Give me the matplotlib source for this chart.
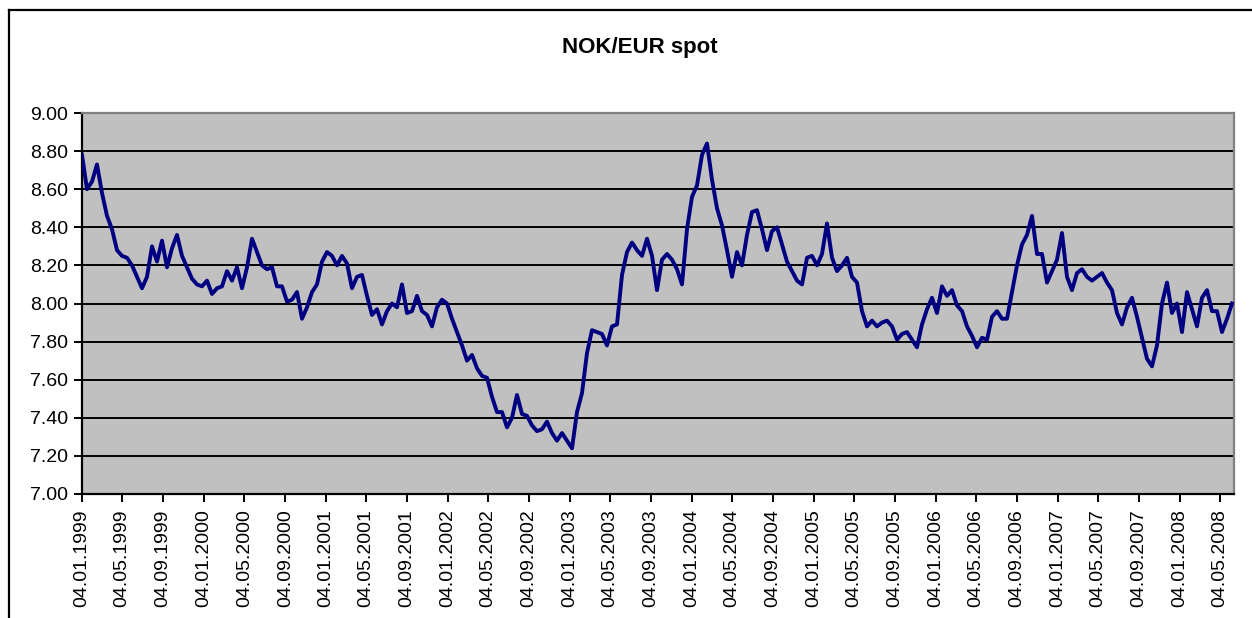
import pandas as pd
import matplotlib
matplotlib.use("Agg")
import matplotlib.pyplot as plt
import matplotlib.dates as mdates
from matplotlib.lines import Line2D

plt.rcParams['font.family'] = ['Liberation Sans', 'DejaVu Sans']

# NOK/EUR spot at even steps from 04.01.1999 to 09.06.2008
start_date = "1999-01-04"
end_date = "2008-06-09"
nok_eur = [
    8.78, 8.60, 8.64, 8.73, 8.58, 8.46, 8.39, 8.28, 8.25, 8.24,
    8.20, 8.14, 8.08, 8.14, 8.30, 8.22, 8.33, 8.19, 8.29, 8.36,
    8.25, 8.19, 8.13, 8.10, 8.09, 8.12, 8.05, 8.08, 8.09, 8.17,
    8.12, 8.19, 8.08, 8.19, 8.34, 8.27, 8.20, 8.18, 8.19, 8.09,
    8.09, 8.01, 8.02, 8.06, 7.92, 7.98, 8.06, 8.10, 8.22, 8.27,
    8.25, 8.20, 8.25, 8.21, 8.08, 8.14, 8.15, 8.04, 7.94, 7.97,
    7.89, 7.96, 8.00, 7.98, 8.10, 7.95, 7.96, 8.04, 7.96, 7.94,
    7.88, 7.98, 8.02, 8.00, 7.92, 7.85, 7.78, 7.70, 7.73, 7.66,
    7.62, 7.61, 7.51, 7.43, 7.43, 7.35, 7.40, 7.52, 7.42, 7.41,
    7.36, 7.33, 7.34, 7.38, 7.32, 7.28, 7.32, 7.28, 7.24, 7.43,
    7.53, 7.74, 7.86, 7.85, 7.84, 7.78, 7.88, 7.89, 8.15, 8.27,
    8.32, 8.28, 8.25, 8.34, 8.25, 8.07, 8.23, 8.26, 8.23, 8.18,
    8.10, 8.39, 8.56, 8.62, 8.78, 8.84, 8.65, 8.50, 8.41, 8.28,
    8.14, 8.27, 8.20, 8.36, 8.48, 8.49, 8.39, 8.28, 8.38, 8.40,
    8.31, 8.22, 8.17, 8.12, 8.10, 8.24, 8.25, 8.20, 8.26, 8.42,
    8.24, 8.17, 8.20, 8.24, 8.14, 8.11, 7.96, 7.88, 7.91, 7.88,
    7.90, 7.91, 7.88, 7.81, 7.84, 7.85, 7.81, 7.77, 7.89, 7.97,
    8.03, 7.95, 8.09, 8.04, 8.07, 7.99, 7.96, 7.88, 7.83, 7.77,
    7.82, 7.81, 7.93, 7.96, 7.92, 7.92, 8.06, 8.20, 8.31, 8.36,
    8.46, 8.26, 8.26, 8.11, 8.17, 8.23, 8.37, 8.14, 8.07, 8.16,
    8.18, 8.14, 8.12, 8.14, 8.16, 8.11, 8.07, 7.95, 7.89, 7.98,
    8.03, 7.93, 7.82, 7.71, 7.67, 7.78, 8.00, 8.11, 7.95, 8.00,
    7.85, 8.06, 7.97, 7.88, 8.03, 8.07, 7.96, 7.96, 7.85, 7.92,
    8.00,
]
dates = pd.date_range(start_date, end_date, periods=len(nok_eur))

fig = plt.figure(figsize=(12.52, 6.18), dpi=100)
ax = fig.add_axes([82 / 1252, 1 - 494 / 618, 1152 / 1252, 381 / 618])

ax.set_facecolor('#C0C0C0')
ax.plot(dates, nok_eur, color='#000080', linewidth=2.8, zorder=3)

ax.set_ylim(7.0, 9.0)
ax.set_yticks([7.0 + 0.2 * i for i in range(11)])
ax.yaxis.set_major_formatter(plt.FormatStrFormatter('%.2f'))
ax.grid(axis='y', color='black', linewidth=1.4, zorder=1)
ax.set_axisbelow(True)

ax.set_xlim(pd.Timestamp("1999-01-04"), pd.Timestamp("2008-06-15"))
ax.xaxis.set_major_locator(mdates.MonthLocator(bymonth=[1, 5, 9], bymonthday=4))
ax.xaxis.set_major_formatter(mdates.DateFormatter('%d.%m.%Y'))

ax.tick_params(axis='both', direction='out', length=6, width=1.4, color='black',
               labelsize=14, pad=4)
ax.tick_params(axis='x', labelrotation=90, pad=5)

for side in ['left', 'bottom']:
    ax.spines[side].set_color('black')
    ax.spines[side].set_linewidth(1.6)
for side in ['top', 'right']:
    ax.spines[side].set_color('#808080')
    ax.spines[side].set_linewidth(1.6)

fig.text(640 / 1252, 1 - 47 / 618, 'NOK/EUR spot', ha='center', va='center',
         fontsize=16, fontweight='bold')

# outer chart frame (left and top edges visible)
fig.add_artist(Line2D([9 / 1252, 9 / 1252], [0, 1 - 10 / 618], color='black', linewidth=1.6))
fig.add_artist(Line2D([9 / 1252, 1], [1 - 10 / 618, 1 - 10 / 618], color='black', linewidth=1.6))

fig.savefig('out.png', dpi=100)
